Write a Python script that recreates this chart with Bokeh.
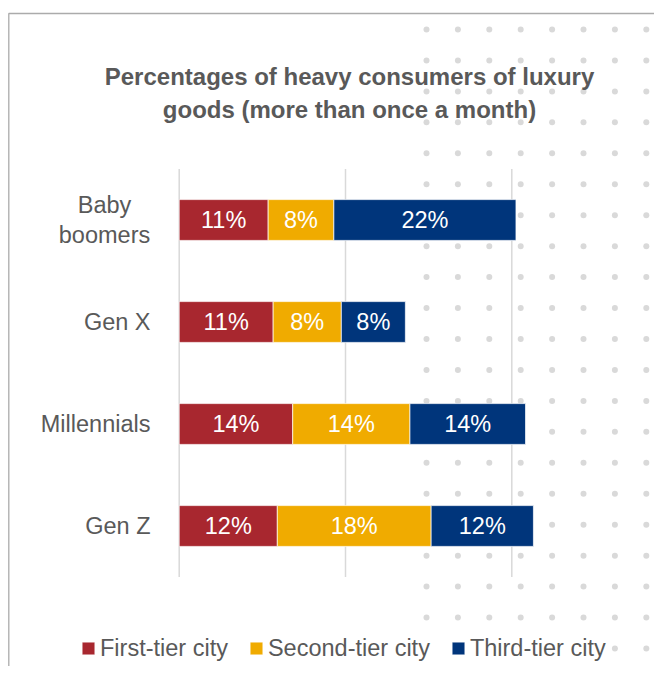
import numpy as np
from bokeh.plotting import figure
from bokeh.models import Range1d, ColumnDataSource
from bokeh.core.properties import value
from bokeh.embed import file_html
from bokeh.resources import INLINE

# ---------------- data ----------------
categories = ["Baby boomers", "Gen X", "Millennials", "Gen Z"]
series = ["First-tier city", "Second-tier city", "Third-tier city"]
first_tier = [10.7, 11.3, 13.65, 11.8]
second_tier = [7.9, 8.2, 14.1, 18.5]
third_tier = [21.9, 7.7, 13.9, 12.3]
first_labels = ["11%", "11%", "14%", "12%"]
second_labels = ["8%", "8%", "14%", "18%"]
third_labels = ["22%", "8%", "14%", "12%"]
grid_ticks = [0, 20, 40]
title_text = "Percentages of heavy consumers of luxury\ngoods (more than once a month)"
colors = ["#A8272F", "#F0AB00", "#00357B"]

# ---------------- layout helpers (canvas pixels -> data units) ----------------
W, H = 654, 666
X0, PPU = 178.7, 8.315      # canvas x of 0 %, pixels per percent
Y0, BAND = 525.5, 102.0     # canvas y of last category, pixels per category


def px2x(px):
    return (np.asarray(px, dtype=float) - X0) / PPU


def py2y(py):
    return (Y0 - np.asarray(py, dtype=float)) / BAND


TEXT_GREY = "#595959"
FONT = "Liberation Sans"

p = figure(width=W, height=H,
           x_range=Range1d(float(px2x(0)), float(px2x(W))),
           y_range=Range1d(float(py2y(H)), float(py2y(0))),
           output_backend="svg", toolbar_location=None,
           x_axis_location=None, y_axis_location=None,
           min_border=0, title=None)
p.outline_line_color = None
p.background_fill_color = "white"
p.border_fill_color = "white"
for g in p.grid:
    g.visible = False

# decorative dot pattern (background)
dot_cols = 426 + 31.4 * np.arange(8)
dot_rows = 29 + 30.95 * np.arange(22)
DX, DY = np.meshgrid(dot_cols, dot_rows)
p.scatter(px2x(DX.ravel()), py2y(DY.ravel()), size=6,
          fill_color="#D9D9D9", line_color=None)

# chart-area border (left + top)
p.line(x=[float(px2x(8.3)), float(px2x(8.3)), float(px2x(800))],
       y=[float(py2y(800)), float(py2y(13)), float(py2y(13))],
       line_color="#ABABAB", line_width=1.3)

# vertical gridlines limited to the plot band
n = len(categories)
p.segment(x0=grid_ticks, x1=grid_ticks,
          y0=[-0.5] * len(grid_ticks), y1=[n - 0.5] * len(grid_ticks),
          line_color="#D9D9D9", line_width=1.5)

ypos = [n - 1 - i for i in range(n)]
source = ColumnDataSource(dict(y=ypos, first=first_tier,
                               second=second_tier, third=third_tier))
p.hbar_stack(["first", "second", "third"], y="y", height=0.4,
             fill_color=colors, line_color="white", line_width=0.7,
             source=source, legend_label=series)

# data labels
lx, ly, lt = [], [], []
vals = [first_tier, second_tier, third_tier]
labs = [first_labels, second_labels, third_labels]
for i in range(n):
    left = 0.0
    for s in range(3):
        v = vals[s][i]
        lx.append(left + v / 2)
        ly.append(ypos[i])
        lt.append(labs[s][i])
        left += v
p.text(x=lx, y=ly, text=lt, text_color="white",
       text_font=value(FONT), text_font_size="23.5px",
       text_align="center", text_baseline="middle")

# category labels
cat_text, cat_x, cat_align = [], [], []
for c in categories:
    if len(c) > 11 and " " in c:
        cat_text.append(c.replace(" ", "\n"))
        cat_x.append(float(px2x(104)))
        cat_align.append("center")
    else:
        cat_text.append(c)
        cat_x.append(float(px2x(150)))
        cat_align.append("right")
cat_src = ColumnDataSource(dict(x=cat_x, y=ypos, text=cat_text, align=cat_align))
p.text(x="x", y="y", text="text", text_align="align", source=cat_src,
       text_color=TEXT_GREY, text_font=value(FONT), text_font_size="23.5px",
       text_baseline="middle", text_line_height=1.15)

# title
p.text(x=[float(px2x(349))], y=[float(py2y(92.5))], text=[title_text],
       text_color=TEXT_GREY, text_font=value(FONT), text_font_size="24px",
       text_font_style="bold", text_align="center", text_baseline="middle",
       text_line_height=1.2)

# legend
lg = p.legend[0]
lg.orientation = "horizontal"
lg.location = (80, 4.5)
lg.glyph_width = 16
lg.glyph_height = 16
lg.label_standoff = 4
lg.spacing = 20
lg.padding = 4
lg.margin = 0
lg.border_line_color = None
lg.background_fill_color = "white"
lg.background_fill_alpha = 1.0
lg.label_text_font = FONT
lg.label_text_font_size = "23.5px"
lg.label_text_color = TEXT_GREY

open("out.html", "w").write(file_html(p, INLINE))
